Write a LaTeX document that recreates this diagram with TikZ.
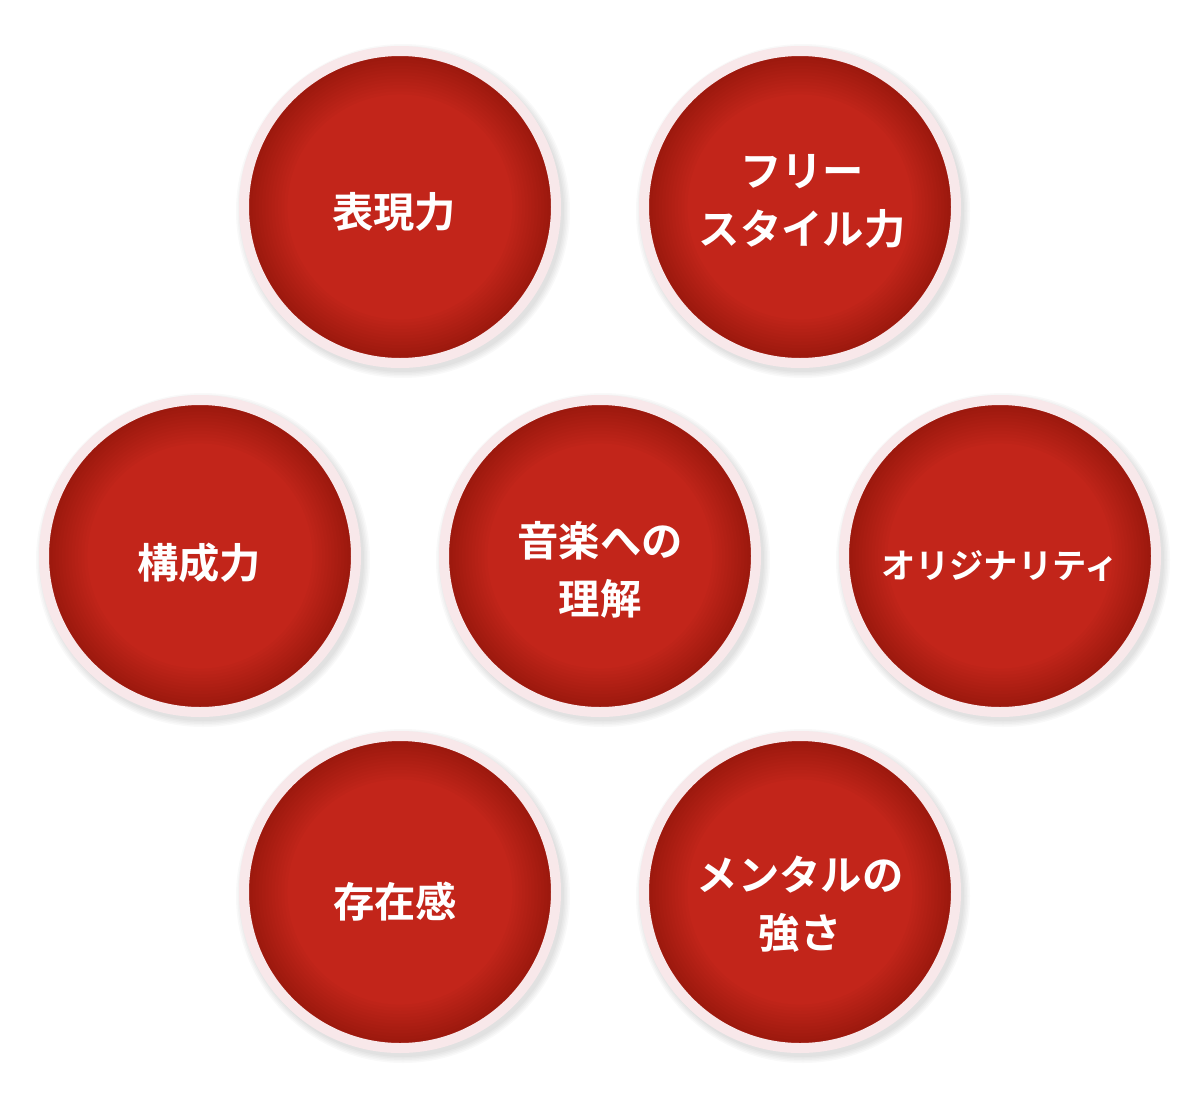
\documentclass[tikz,border=0pt]{standalone}
\usepackage{fontspec}
\newfontfamily\cjk{Noto Sans CJK JP}[BoldFont={Noto Sans CJK JP Bold}]
\definecolor{ringcol}{HTML}{F8E8EA}
\definecolor{redin}{HTML}{C2251A}
\tikzset{
  skill/.style={circle, inner sep=0pt, outer sep=0pt, minimum size=234pt,
    draw=ringcol, line width=7.5pt, fill=redin,
    path picture={
      \foreach \k in {1,...,12}{
        \fill[black, opacity=0.016, even odd rule]
          (path picture bounding box.center) circle[radius=160]
          (path picture bounding box.center) circle[radius=151-\k*3.2];
      }
    }},
  skilltext/.style={inner sep=0pt, text=white, align=center,
    font=\cjk\bfseries\fontsize{31pt}{43.5pt}\selectfont},
  smalltext/.style={skilltext, font=\cjk\bfseries\fontsize{25.7pt}{38pt}\selectfont},
  shadowc/.style={fill=black, opacity=0.025}
}
\begin{document}
\begin{tikzpicture}[x=0.75pt,y=-0.75pt]
\useasboundingbox (0,0) rectangle (1200,1100);
\fill[white] (0,0) rectangle (1200,1100);
\foreach \cx/\cy in {400/207,800/207,200/556,600/556,1000/556,400/892,800/892}{
  \foreach \r in {161,162.5,164,165.5,167}{
    \fill[shadowc] (\cx+3,\cy+4) circle[radius=\r];
  }
}
\node[skill] (hyogen) at (400,207) {};
\node[skill] (free) at (800,207) {};
\node[skill] (kosei) at (200,556) {};
\node[skill] (ongaku) at (600,556) {};
\node[skill] (orig) at (1000,556) {};
\node[skill] (sonzai) at (400,892) {};
\node[skill] (mental) at (800,892) {};
\node[skilltext] (thyogen) at (394,212) {表現力};
\node[skilltext] (tfree) at (802,201) {フリー\\スタイル力};
\node[skilltext] (tkosei) at (199,563) {構成力};
\node[skilltext] (tongaku) at (600,570) {音楽への\\理解};
\node[smalltext] (torig) at (1000,566) {オリジナリティ};
\node[skilltext] (tsonzai) at (395,902) {存在感};
\node[skilltext] (tmental) at (800,904) {メンタルの\\強さ};
\end{tikzpicture}
\end{document}
